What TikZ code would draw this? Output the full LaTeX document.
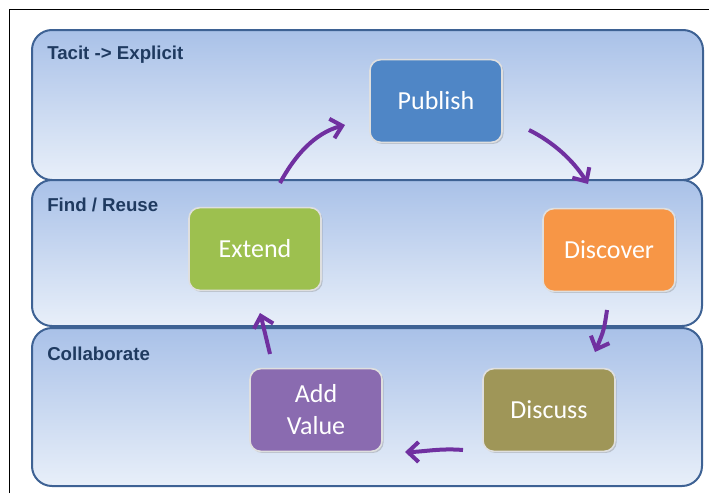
\documentclass[tikz,border=0pt]{standalone}
\usepackage{fontspec}
\setmainfont{Carlito}
\newfontfamily\bandfont{Liberation Sans}
\usetikzlibrary{arrows.meta,shadows}
\definecolor{bandline}{HTML}{3E6294}
\definecolor{bandtop}{HTML}{A9C1E8}
\definecolor{bandbot}{HTML}{E8EFF9}
\definecolor{bandtext}{HTML}{1F3A60}
\definecolor{flow}{HTML}{7030A0}
\definecolor{cpublish}{HTML}{4F86C6}
\definecolor{cdiscover}{HTML}{F79646}
\definecolor{cextend}{HTML}{9DC04F}
\definecolor{cdiscuss}{HTML}{9F9658}
\definecolor{cvalue}{HTML}{8A6BB0}
\begin{document}
\begin{tikzpicture}[x=0.75pt,y=0.75pt,yscale=-1,xscale=1,
  band/.style={draw=bandline, line width=1.5pt, rounded corners=15pt,
    top color=bandtop, bottom color=bandbot},
  bandlabel/.style={anchor=west, inner sep=0.75pt, text=bandtext,
    font=\bandfont\bfseries\fontsize{14}{16}\selectfont},
  stage/.style={draw=white!75!gray, line width=1.2pt, rounded corners=8pt,
    minimum width=99pt, minimum height=62pt, text=white, align=center,
    font=\fontsize{19.5}{21}\selectfont,
    drop shadow={opacity=0.35, shadow xshift=1.2pt, shadow yshift=-1.2pt}},
  flowarrow/.style={draw=flow, line width=3pt,
    -{Straight Barb[length=8pt,width=15pt]}}]
\useasboundingbox (0,0) rectangle (709,493);

%Frame
\draw [line width=0.75pt] (9,493) -- (9,9) -- (709,9) ;

%Shape: Bands
\draw [band] (32,30) rectangle (703,180) ;
\draw [band] (32,180) rectangle (702,326) ;
\draw [band] (32,328) rectangle (702,486) ;

% Band labels
\node [bandlabel] (tacit) at (46,55) {Tacit -> Explicit};
\node [bandlabel] (find) at (46,205) {Find / Reuse};
\node [bandlabel] (collab) at (46,354) {Collaborate};

% Stages
\node [stage, fill=cpublish] (publish) at (436,101) {Publish};
\node [stage, fill=cdiscover] (discover) at (609,250) {Discover};
\node [stage, fill=cextend] (extend) at (255,249) {Extend};
\node [stage, fill=cdiscuss] (discuss) at (549,410) {Discuss};
\node [stage, fill=cvalue] (addvalue) at (316,410) {Add\\[3pt]Value};

% Arrow ends
\coordinate (ea) at (280,183) ;
\coordinate (pa) at (345,125) ;
\coordinate (pb) at (529,130) ;
\coordinate (db) at (588,184) ;
\coordinate (dc) at (607,310) ;
\coordinate (sc) at (595,352) ;
\coordinate (sd) at (463,450) ;
\coordinate (vd) at (405,452) ;
\coordinate (ve) at (270,354) ;
\coordinate (xe) at (260,313) ;

% Flow
\draw [flowarrow] (ea) .. controls (295,155) and (315,133) .. (pa) ;
\draw [flowarrow] (pb) .. controls (553,142) and (573,160) .. (db) ;
\draw [flowarrow] (dc) .. controls (604,330) .. (sc) ;
\draw [flowarrow] (sd) .. controls (440,448) and (422,452) .. (vd) ;
\draw [flowarrow] (ve) .. controls (266,335) .. (xe) ;
\end{tikzpicture}
\end{document}
